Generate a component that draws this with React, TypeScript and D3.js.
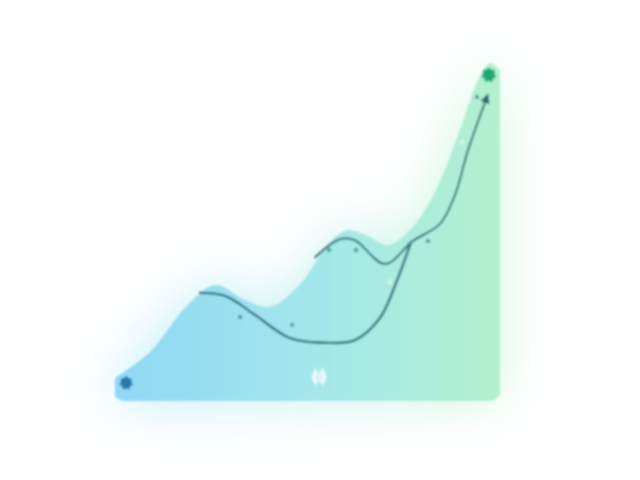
import * as d3 from 'd3';

// abstract units: x 0..100 (left to right), y 0..100 (bottom to top)
const areaX = [0, 9.1, 18.2, 26.0, 33.8, 40.3, 48.1, 55.8, 60.3, 65.0, 70.9, 76.6, 82.6, 89.6, 94.3, 97.4, 100];
const areaY = [6.5, 14.1, 27.1, 33.8, 29.4, 27.4, 34.1, 46.5, 49.9, 48.6, 45.6, 50.0, 60.0, 79.4, 94.1, 99.1, 97];

const lowX = [22.1, 28.6, 36.4, 45.5, 55.8, 62.3, 68.8, 73.5, 76.6];
const lowY = [31.5, 30.6, 25.0, 18.2, 16.8, 17.6, 24.1, 35.9, 45.6];

const highX = [52.0, 58.4, 62.3, 70.1, 77.4, 84.4, 88.3, 91.7, 96.6];
const highY = [42.0, 47.3, 47.0, 40.0, 46.8, 51.8, 60.3, 73.5, 89.1];

const dotX = [32.5, 46.0, 55.6, 62.6, 76.6, 81.3, 94.0];
const dotY = [24.4, 22.1, 44.1, 44.1, 45.9, 46.8, 89.1];

const faintX = [77.9, 90.1, 71.4];
const faintY = [52.1, 75.9, 34.7];

const W = 640;
const H = 480;

const Flower = ({ cx, cy, color, r }: { cx: number; cy: number; color: string; r: number }) => (
  <g transform={`translate(${cx},${cy})`}>
    <circle r={r} fill={color} />
    {d3.range(7).map((i) => {
      const a = (i / 7) * Math.PI * 2 - Math.PI / 2;
      return <circle key={i} cx={Math.cos(a) * r} cy={Math.sin(a) * r} r={r * 0.45} fill={color} />;
    })}
  </g>
);

export default function App() {
  const x = d3.scaleLinear().domain([0, 100]).range([115, 500]);
  const y = d3.scaleLinear().domain([0, 100]).range([400, 60]);

  const zip = (xs: number[], ys: number[]) => xs.map((v, i) => [v, ys[i]] as [number, number]);

  const area = d3
    .area<[number, number]>()
    .x((d) => x(d[0]))
    .y0(y(-5))
    .y1((d) => y(d[1]))
    .curve(d3.curveCatmullRom.alpha(0.5));

  const line = d3
    .line<[number, number]>()
    .x((d) => x(d[0]))
    .y((d) => y(d[1]))
    .curve(d3.curveCatmullRom.alpha(0.5));

  const areaPath = area(zip(areaX, areaY)) ?? '';

  return (
    <svg width={W} height={H} style={{ position: 'fixed', left: 0, top: 0, background: '#fff' }}>
      <defs>
        <linearGradient id="fillGrad" x1="0" x2="1" y1="0" y2="0">
          <stop offset="0%" stopColor="#8fd8f5" />
          <stop offset="50%" stopColor="#a3e6ec" />
          <stop offset="100%" stopColor="#b2f1cf" />
        </linearGradient>
        <linearGradient id="glowGrad" x1="0" x2="1" y1="0" y2="0">
          <stop offset="0%" stopColor="#7fd8f8" />
          <stop offset="100%" stopColor="#a8f0c4" />
        </linearGradient>
        <filter id="glow" x="-40%" y="-40%" width="180%" height="180%">
          <feGaussianBlur stdDeviation="28" />
        </filter>
        <filter id="soft" x="-5%" y="-5%" width="110%" height="110%">
          <feGaussianBlur stdDeviation="0.8" />
        </filter>
        <filter id="soft2" x="-50%" y="-50%" width="200%" height="200%">
          <feGaussianBlur stdDeviation="1.4" />
        </filter>
        <clipPath id="card">
          <rect x={x(0) - 2} y={40} width={x(100) - x(0) + 3} height={y(0) - 40 + 1} rx={12} />
        </clipPath>
        <marker id="arrow" viewBox="0 0 10 10" refX="6" refY="5" markerWidth="5" markerHeight="5" orient="auto">
          <path d="M0,0 L10,5 L0,10 Z" fill="#26706f" />
        </marker>
      </defs>

      {/* soft outer glow */}
      <g opacity={0.5} filter="url(#glow)">
        <path d={areaPath} fill="url(#glowGrad)" clipPath="url(#card)" />
      </g>

      <g filter="url(#soft)">
        <path d={areaPath} fill="url(#fillGrad)" clipPath="url(#card)" />

        <path
          d={line(zip(lowX, lowY)) ?? ''}
          fill="none"
          stroke="#276a7c"
          strokeWidth={2.4}
          strokeLinecap="round"
        />
        <path
          d={line(zip(highX, highY)) ?? ''}
          fill="none"
          stroke="#28707a"
          strokeWidth={2}
          strokeLinecap="round"
          markerEnd="url(#arrow)"
        />

        {dotX.map((d, i) => (
          <circle key={`d${i}`} cx={x(d)} cy={y(dotY[i])} r={2.2} fill="#3f7f86" opacity={0.75} />
        ))}
        {faintX.map((d, i) => (
          <circle key={`f${i}`} cx={x(d)} cy={y(faintY[i])} r={2.5} fill="#d8f6ea" opacity={0.8} />
        ))}

        <Flower cx={x(2.9)} cy={y(5.0)} color="#2b78a6" r={4.6} />
        <Flower cx={x(97.1)} cy={y(95.6)} color="#1fa872" r={5} />
      </g>

      <text
        transform={`translate(${x(53)},${y(3.2)}) scale(0.8,1.6)`}
        textAnchor="middle"
        fontSize={24}
        fontFamily="DejaVu Sans"
        fontWeight="bold"
        fill="#ffffff"
        filter="url(#soft2)"
      >
        ⇔
      </text>
    </svg>
  );
}
